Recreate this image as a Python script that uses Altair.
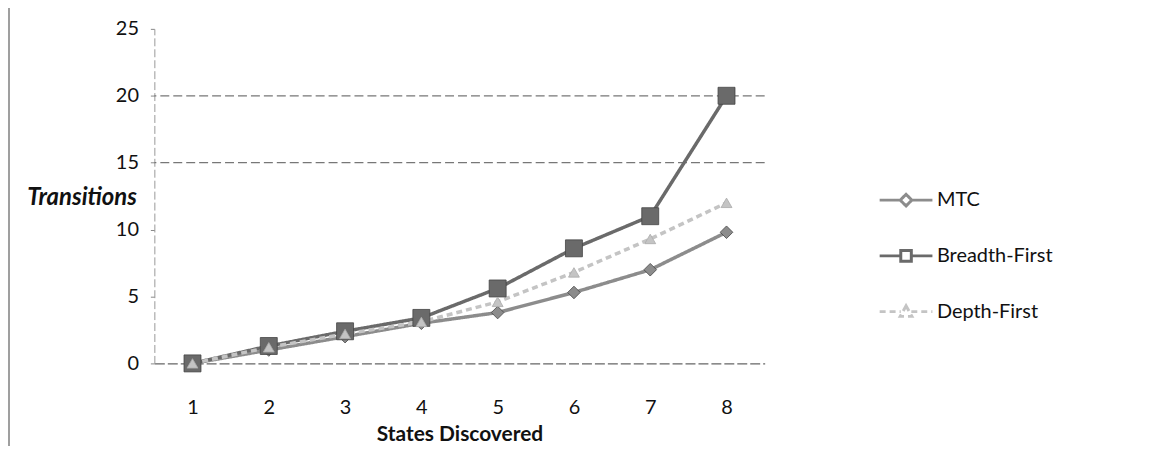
import altair as alt
import pandas as pd

states = [1, 2, 3, 4, 5, 6, 7, 8]
mtc = [0, 1.0, 2.0, 3.0, 3.8, 5.3, 7.0, 9.8]
breadth = [0, 1.3, 2.4, 3.4, 5.6, 8.6, 11.0, 20.0]
depth = [0, 1.2, 2.2, 3.1, 4.6, 6.8, 9.3, 12.0]
series = ["MTC", "Breadth-First", "Depth-First"]
colors = ["#8c8c8c", "#6a6a6a", "#c4c4c4"]
dashes = [[1, 0], [1, 0], [6, 4]]
legend_paths = [
    "M-1,0L-0.2,0M0.2,0L1,0M0,-0.22L0.22,0L0,0.22L-0.22,0Z",
    "M-1,0L-0.2,0M0.2,0L1,0M-0.2,-0.2L0.2,-0.2L0.2,0.2L-0.2,0.2Z",
    "M-1,0L-0.2,0M0.2,0L1,0M0,-0.22L0.22,0.18L-0.22,0.18Z",
]
grid_values = [15, 20]
y_ticks = [0, 5, 10, 15, 20, 25]

rows = []
for name, vals in zip(series, [mtc, breadth, depth]):
    for s, v in zip(states, vals):
        rows.append({"state": s, "value": v, "series": name})
df = pd.DataFrame(rows)
grid_df = pd.DataFrame({"g": grid_values})

FONT = "Lato"

x_enc = alt.X("state:Q", scale=alt.Scale(domain=[0.5, 8.5], nice=False, zero=False),
              axis=alt.Axis(values=states, format="d", title="States Discovered", grid=False,
                            labelFontSize=20, labelFont=FONT, labelColor="#111",
                            labelPadding=34, tickSize=0,
                            domainColor="#666", domainDash=[10, 3], domainWidth=1.2,
                            titleFont=FONT, titleFontSize=21, titleFontWeight="bold",
                            titleColor="#111", titlePadding=6))
y_enc = alt.Y("value:Q", scale=alt.Scale(domain=[0, 25], nice=False),
              axis=alt.Axis(values=y_ticks, title="Transitions", grid=False,
                            labelFontSize=20, labelFont=FONT, labelColor="#111",
                            labelPadding=12, tickSize=4, tickColor="#888",
                            domainColor="#999", domainDash=[8, 3],
                            titleFont=FONT, titleFontSize=24, titleFontWeight="bold",
                            titleFontStyle="italic", titleColor="#111",
                            titleAngle=0, titleAlign="right", titleBaseline="middle",
                            titleX=-18, titleY=169))

base = alt.Chart(df)

grid = alt.Chart(grid_df).mark_rule(color="#777", strokeDash=[9, 4], strokeWidth=1.2).encode(
    y=alt.Y("g:Q", scale=alt.Scale(domain=[0, 25], nice=False))
)

shapes = {"MTC": "diamond", "Breadth-First": "square", "Depth-First": "triangle-up"}
sizes = {"MTC": 160, "Breadth-First": 290, "Depth-First": 120}
line_layers = []
point_layers = []
for i, (name, c, d) in enumerate(zip(series, colors, dashes)):
    sub = base.transform_filter(alt.datum.series == name)
    line_layers.append(
        sub.mark_line(strokeWidth=3.5, color=c, strokeDash=d).encode(
            x=x_enc if i == 0 else "state:Q", y=y_enc if i == 0 else "value:Q")
    )
    point_layers.append(
        sub.mark_point(
            shape=shapes[name], filled=True, size=sizes[name], color=c, opacity=1,
            stroke="#444" if name != "Depth-First" else "#aaa", strokeWidth=0.8
        ).encode(x="state:Q", y="value:Q")
    )

legend_layer = base.mark_point(filled=False, strokeWidth=3, opacity=0).encode(
    x="state:Q", y="value:Q",
    color=alt.Color("series:N", scale=alt.Scale(domain=series, range=colors), title=None,
                    legend=alt.Legend(orient="none", legendX=727, legendY=144, padding=0,
                                      symbolSize=2809, labelFontSize=20, labelFont=FONT,
                                      labelColor="#111", rowPadding=16, labelOffset=3,
                                      symbolStrokeWidth=3, symbolOpacity=1)),
    strokeDash=alt.StrokeDash("series:N", scale=alt.Scale(domain=series, range=dashes), title=None),
    shape=alt.Shape("series:N", scale=alt.Scale(domain=series, range=legend_paths), title=None),
)

frame = alt.Chart(grid_df).mark_rule(color="#999", strokeWidth=1.5).encode(
    x=alt.value(-146), y=alt.value(-28), y2=alt.value(420)
)

chart = alt.layer(grid, *line_layers, *point_layers, legend_layer, frame).properties(
    width=613, height=336,
    padding={"left": 147, "top": 20, "right": 380, "bottom": 82},
    autosize=alt.AutoSizeParams(type="none"),
).configure_view(stroke=None)

chart.save("out.html", embed_options={"renderer": "svg", "actions": False})
